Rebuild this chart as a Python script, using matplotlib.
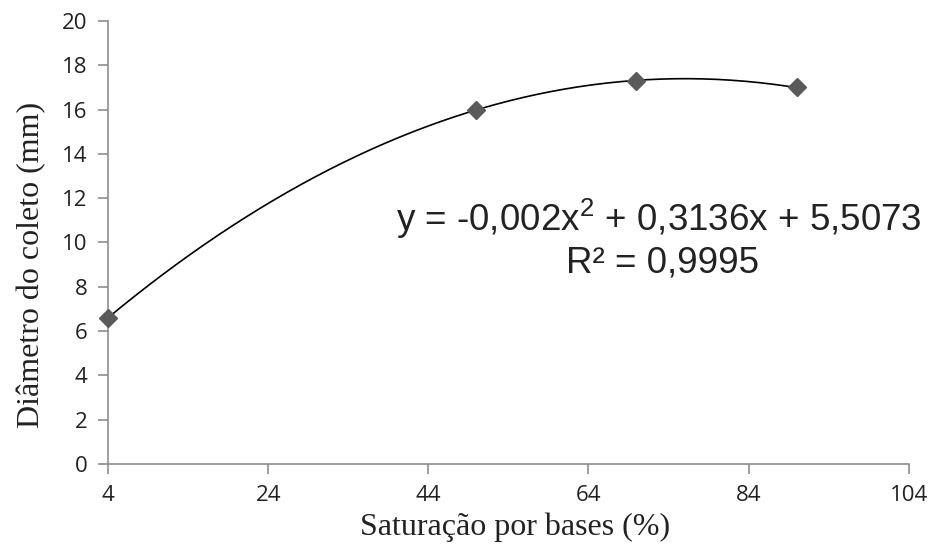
import numpy as np
import matplotlib.pyplot as plt

# data
saturacao = [4, 50, 70, 90]
diametro = [6.6, 16.0, 17.3, 17.0]
x_ticks = [4, 24, 44, 64, 84, 104]
y_ticks = [0, 2, 4, 6, 8, 10, 12, 14, 16, 18, 20]
equacao = 'y = -0,002x$^{2}$ + 0,3136x + 5,5073'
r2 = 'R² = 0,9995'

plt.rcParams['mathtext.fontset'] = 'custom'
plt.rcParams['mathtext.rm'] = 'Liberation Sans'
plt.rcParams['mathtext.it'] = 'Liberation Sans'

fig = plt.figure(figsize=(9.31, 5.53), dpi=100)
ax = fig.add_axes([0.116, 0.161, 0.860, 0.801])

# polynomial trendline (order 2), like the spreadsheet one
coef = np.polyfit(saturacao, diametro, 2)
xs = np.linspace(min(saturacao), max(saturacao), 200)
ax.plot(xs, np.polyval(coef, xs), color='black', lw=1.2, zorder=2)
ax.plot(saturacao, diametro, linestyle='none', marker='D', markersize=9,
        color='#5a5a5a', zorder=3, clip_on=False)

ax.set_xlim(4, 104)
ax.set_ylim(0, 20)
ax.set_xticks(x_ticks)
ax.set_yticks(y_ticks)

for side in ['top', 'right']:
    ax.spines[side].set_visible(False)
for side in ['left', 'bottom']:
    ax.spines[side].set_color('#8c8c8c')
    ax.spines[side].set_linewidth(1.2)
ax.tick_params(axis='both', colors='#8c8c8c', length=7, width=1.2, direction='out')
ax.tick_params(axis='both', labelcolor='#222222', labelsize=16)
ax.tick_params(axis='x', pad=8)
ax.tick_params(axis='y', pad=8)
for lbl in ax.get_xticklabels() + ax.get_yticklabels():
    lbl.set_family('Open Sans')

ax.set_xlabel('Saturação por bases (%)', family='Liberation Serif', fontsize=23,
              color='#222222')
ax.set_ylabel('Diâmetro do coleto (mm)', family='Liberation Serif', fontsize=23,
              color='#222222')
ax.xaxis.set_label_coords(0.508, -0.11)
ax.yaxis.set_label_coords(-0.077, 0.45)

fig.text(659 / 931, 1 - 219 / 553, equacao, ha='center', va='center',
         family='Liberation Sans', fontsize=26.5, color='#222222')
fig.text(662 / 931, 1 - 263 / 553, r2, ha='center', va='center',
         family='Liberation Sans', fontsize=26.5, color='#222222')

plt.savefig('out.png', dpi=100)
